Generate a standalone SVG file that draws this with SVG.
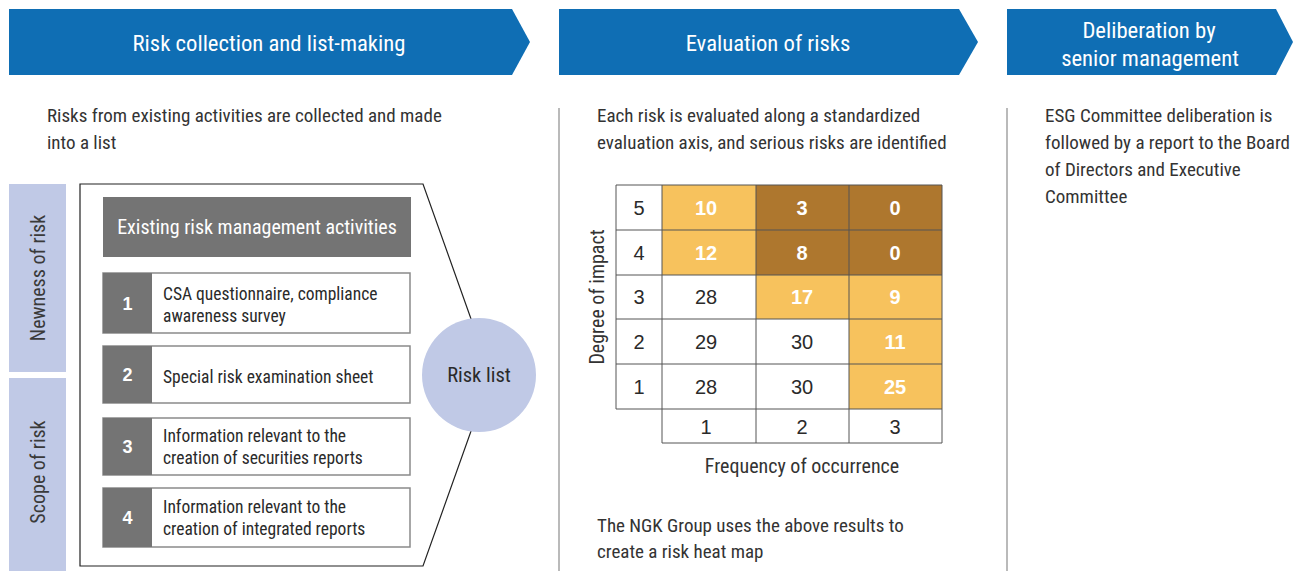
<svg xmlns="http://www.w3.org/2000/svg" width="1298" height="571" viewBox="0 0 1298 571">
<style>
text{font-family:"Liberation Sans Narrow","Roboto Condensed","Liberation Sans",sans-serif;}
.bn{fill:#0f6eb4;}
.bt{fill:#fff;font-size:22.7px;text-anchor:middle;}
.body{fill:#333;font-size:19px;}
.side{fill:#c0c9e6;}
.st{fill:#3a3a3a;font-size:20px;text-anchor:middle;}
.num{fill:#747474;}
.nt{fill:#fff;font-size:18px;font-weight:bold;text-anchor:middle;font-family:"Liberation Sans",sans-serif;}
.ib{fill:#fff;stroke:#8a8a8a;stroke-width:1.5;}
.it{fill:#2a2a2a;font-size:17.5px;}
.lo{fill:#f7c25d;}
.dk{fill:#ae772e;}
.wc{fill:#fff;}
.g{stroke:#555;stroke-width:1;fill:none;}
.cw{fill:#fff;font-size:20px;font-weight:bold;text-anchor:middle;font-family:"Liberation Sans",sans-serif;}
.cd{fill:#2a2a2a;font-size:20px;text-anchor:middle;font-family:"Liberation Sans",sans-serif;}
.ax{fill:#333;font-size:20px;text-anchor:middle;}
.div{stroke:#8c8c8c;stroke-width:1.2;}
</style>

<g id="banner1"><polygon class="bn" points="9,9 512,9 530,42 512,75 9,75"/><text class="bt" x="269" y="51">Risk collection and list-making</text></g>
<g id="banner2"><polygon class="bn" points="559,9 959,9 978,42 959,75 559,75"/><text class="bt" x="768" y="51">Evaluation of risks</text></g>
<g id="banner3"><polygon class="bn" points="1007,9 1276,9 1293,42 1276,75 1007,75"/><text class="bt" x="1149" y="38">Deliberation by</text><text class="bt" x="1150" y="66">senior management</text></g>

<g id="dividers"><line class="div" x1="559" y1="108" x2="559" y2="571"/><line class="div" x1="1007" y1="108" x2="1007" y2="571"/></g>

<g id="desc1"><text class="body" x="47" y="122">Risks from existing activities are collected and made</text><text class="body" x="47" y="149">into a list</text></g>
<g id="desc2"><text class="body" x="597" y="122">Each risk is evaluated along a standardized</text><text class="body" x="597" y="149">evaluation axis, and serious risks are identified</text></g>
<g id="desc3"><text class="body" x="1045" y="122">ESG Committee deliberation is</text><text class="body" x="1045" y="149">followed by a report to the Board</text><text class="body" x="1045" y="176">of Directors and Executive</text><text class="body" x="1045" y="203">Committee</text></g>

<g id="newness"><rect class="side" x="9" y="184" width="57" height="188"/><text class="st" transform="translate(45,278) rotate(-90)">Newness of risk</text></g>
<g id="scope"><rect class="side" x="9" y="378" width="57" height="193"/><text class="st" transform="translate(45,472) rotate(-90)">Scope of risk</text></g>

<g id="panel"><polygon points="80,184 423,184 491,375 423,566 80,566" fill="#fff" stroke="#222" stroke-width="1.2"/></g>

<g id="header"><rect x="103" y="197" width="308" height="60" fill="#747474"/><text x="257" y="234" fill="#fff" font-size="20" text-anchor="middle">Existing risk management activities</text></g>

<g id="item1"><rect class="ib" x="103" y="273" width="307" height="60"/><rect class="num" x="103" y="273" width="49" height="60"/><text class="nt" x="127.5" y="310">1</text><text class="it" x="163" y="300">CSA questionnaire, compliance</text><text class="it" x="163" y="322">awareness survey</text></g>
<g id="item2"><rect class="ib" x="103" y="346" width="307" height="57"/><rect class="num" x="103" y="346" width="49" height="57"/><text class="nt" x="127.5" y="381">2</text><text class="it" x="163" y="383">Special risk examination sheet</text></g>
<g id="item3"><rect class="ib" x="103" y="418" width="307" height="57"/><rect class="num" x="103" y="418" width="49" height="57"/><text class="nt" x="127.5" y="453">3</text><text class="it" x="163" y="442">Information relevant to the</text><text class="it" x="163" y="464">creation of securities reports</text></g>
<g id="item4"><rect class="ib" x="103" y="488" width="307" height="59"/><rect class="num" x="103" y="488" width="49" height="59"/><text class="nt" x="127.5" y="524">4</text><text class="it" x="163" y="513">Information relevant to the</text><text class="it" x="163" y="535">creation of integrated reports</text></g>

<g id="risklist"><circle cx="479" cy="375" r="57" fill="#c0c9e6"/><text x="479" y="382" fill="#2a2a2a" font-size="20.5" text-anchor="middle">Risk list</text></g>

<g id="heatmap">
<rect class="wc" x="616" y="185" width="326" height="225"/>
<rect class="lo" x="662" y="185" width="94" height="45"/><rect class="dk" x="756" y="185" width="93" height="45"/><rect class="dk" x="849" y="185" width="93" height="45"/>
<rect class="lo" x="662" y="230" width="94" height="45"/><rect class="dk" x="756" y="230" width="93" height="45"/><rect class="dk" x="849" y="230" width="93" height="45"/>
<rect class="lo" x="756" y="275" width="93" height="44"/><rect class="lo" x="849" y="275" width="93" height="44"/>
<rect class="lo" x="849" y="319" width="93" height="45"/>
<rect class="lo" x="849" y="364" width="93" height="45"/>
<path class="g" d="M616,185H942V409H616Z M662,185V443 M756,185V443 M849,185V443 M942,409V443 M662,443H942 M616,230H942 M616,275H942 M616,319H942 M616,364H942"/>
<text class="cd" x="639" y="215">5</text><text class="cw" x="706" y="215">10</text><text class="cw" x="802" y="215">3</text><text class="cw" x="895" y="215">0</text>
<text class="cd" x="639" y="260">4</text><text class="cw" x="706" y="260">12</text><text class="cw" x="802" y="260">8</text><text class="cw" x="895" y="260">0</text>
<text class="cd" x="639" y="304">3</text><text class="cd" x="706" y="304">28</text><text class="cw" x="802" y="304">17</text><text class="cw" x="895" y="304">9</text>
<text class="cd" x="639" y="349">2</text><text class="cd" x="706" y="349">29</text><text class="cd" x="802" y="349">30</text><text class="cw" x="895" y="349">11</text>
<text class="cd" x="639" y="394">1</text><text class="cd" x="706" y="394">28</text><text class="cd" x="802" y="394">30</text><text class="cw" x="895" y="394">25</text>
<text class="cd" x="706" y="434">1</text><text class="cd" x="802" y="434">2</text><text class="cd" x="895" y="434">3</text>
</g>
<g id="axes"><text class="ax" transform="translate(604,297) rotate(-90)">Degree of impact</text><text class="ax" x="802" y="473">Frequency of occurrence</text></g>
<g id="note"><text class="body" x="597" y="532">The NGK Group uses the above results to</text><text class="body" x="597" y="558">create a risk heat map</text></g>
</svg>
